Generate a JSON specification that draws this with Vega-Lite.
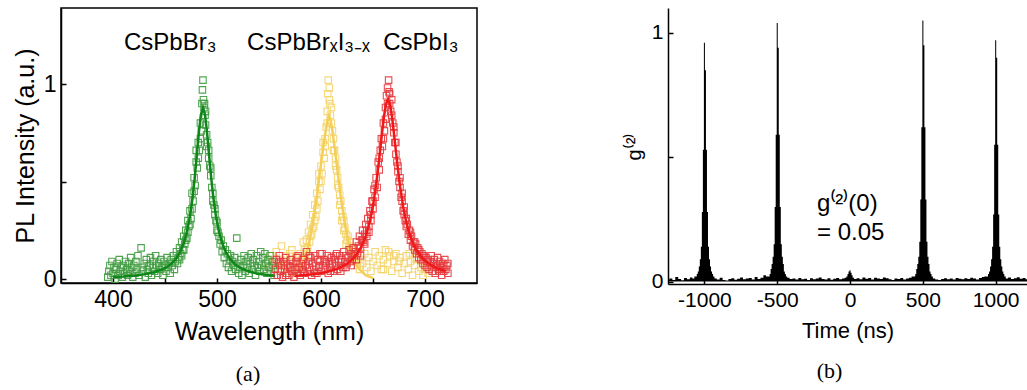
{
"$schema": "https://vega.github.io/schema/vega-lite/v6.json",
"padding": {"left": 12, "top": 7, "right": 0, "bottom": 0},
"spacing": 146,
"config": {
  "font": "Liberation Sans",
  "view": {"stroke": "black", "strokeWidth": 1.5},
  "axis": {"domainColor": "black", "domainWidth": 1.5, "tickColor": "black", "tickWidth": 1.5, "tickSize": -5, "labelColor": "black", "titleColor": "black", "titleFontWeight": "normal", "grid": false, "labelFont": "Liberation Sans", "titleFont": "Liberation Sans"},
  "title": {"font": "Liberation Serif", "fontWeight": "normal", "color": "black"}
},
"datasets": {
"pts": [
{"w":545,"i":0.04,"s":"y"},{"w":548,"i":0.09,"s":"y"},{"w":551,"i":0.06,"s":"y"},{"w":553,"i":0.12,"s":"y"},{"w":555,"i":0.08,"s":"y"},{"w":557,"i":0.14,"s":"y"},{"w":559,"i":0.05,"s":"y"},{"w":560,"i":0.07,"s":"y"},{"w":561,"i":0.10,"s":"y"},{"w":562,"i":0.17,"s":"y"},{"w":564,"i":0.07,"s":"y"},{"w":566,"i":0.12,"s":"y"},{"w":568,"i":0.04,"s":"y"},{"w":570,"i":0.09,"s":"y"},{"w":570,"i":0.13,"s":"y"},{"w":572,"i":0.15,"s":"y"},{"w":574,"i":0.06,"s":"y"},{"w":576,"i":0.11,"s":"y"},{"w":578,"i":0.08,"s":"y"},{"w":580,"i":0.13,"s":"y"},{"w":580,"i":0.06,"s":"y"},{"w":582,"i":0.10,"s":"y"},{"w":583,"i":0.19,"s":"y"},{"w":584,"i":0.15,"s":"y"},{"w":585,"i":0.12,"s":"y"},{"w":586,"i":0.20,"s":"y"},{"w":587,"i":0.16,"s":"y"},{"w":588,"i":0.24,"s":"y"},{"w":589,"i":0.19,"s":"y"},{"w":590,"i":0.28,"s":"y"},{"w":590,"i":0.22,"s":"y"},{"w":591,"i":0.23,"s":"y"},{"w":592,"i":0.33,"s":"y"},{"w":592,"i":0.26,"s":"y"},{"w":593,"i":0.27,"s":"y"},{"w":594,"i":0.38,"s":"y"},{"w":594,"i":0.30,"s":"y"},{"w":595,"i":0.32,"s":"y"},{"w":596,"i":0.44,"s":"y"},{"w":596,"i":0.36,"s":"y"},{"w":597,"i":0.40,"s":"y"},{"w":598,"i":0.50,"s":"y"},{"w":598,"i":0.54,"s":"y"},{"w":599,"i":0.46,"s":"y"},{"w":600,"i":0.58,"s":"y"},{"w":600,"i":0.50,"s":"y"},{"w":601,"i":0.54,"s":"y"},{"w":602,"i":0.65,"s":"y"},{"w":602,"i":0.70,"s":"y"},{"w":603,"i":0.62,"s":"y"},{"w":604,"i":0.72,"s":"y"},{"w":604,"i":0.68,"s":"y"},{"w":605,"i":0.78,"s":"y"},{"w":606,"i":0.86,"s":"y"},{"w":606,"i":0.80,"s":"y"},{"w":606.5,"i":0.95,"s":"y"},{"w":607,"i":1.02,"s":"y"},{"w":608,"i":0.98,"s":"y"},{"w":608,"i":0.92,"s":"y"},{"w":608.5,"i":0.90,"s":"y"},{"w":609,"i":0.84,"s":"y"},{"w":610,"i":0.88,"s":"y"},{"w":610,"i":0.80,"s":"y"},{"w":611,"i":0.76,"s":"y"},{"w":612,"i":0.72,"s":"y"},{"w":612,"i":0.66,"s":"y"},{"w":613,"i":0.66,"s":"y"},{"w":614,"i":0.62,"s":"y"},{"w":614,"i":0.58,"s":"y"},{"w":615,"i":0.56,"s":"y"},{"w":616,"i":0.52,"s":"y"},{"w":616,"i":0.48,"s":"y"},{"w":617,"i":0.47,"s":"y"},{"w":618,"i":0.43,"s":"y"},{"w":618,"i":0.38,"s":"y"},{"w":619,"i":0.40,"s":"y"},{"w":620,"i":0.35,"s":"y"},{"w":620,"i":0.30,"s":"y"},{"w":621,"i":0.32,"s":"y"},{"w":622,"i":0.30,"s":"y"},{"w":622,"i":0.25,"s":"y"},{"w":623,"i":0.26,"s":"y"},{"w":624,"i":0.23,"s":"y"},{"w":624,"i":0.18,"s":"y"},{"w":625,"i":0.20,"s":"y"},{"w":626,"i":0.22,"s":"y"},{"w":627,"i":0.17,"s":"y"},{"w":628,"i":0.19,"s":"y"},{"w":629,"i":0.14,"s":"y"},{"w":630,"i":0.16,"s":"y"},{"w":631,"i":0.12,"s":"y"},{"w":632,"i":0.15,"s":"y"},{"w":633,"i":0.09,"s":"y"},{"w":634,"i":0.13,"s":"y"},{"w":635,"i":0.07,"s":"y"},{"w":636,"i":0.11,"s":"y"},{"w":637,"i":0.05,"s":"y"},{"w":638,"i":0.10,"s":"y"},{"w":640,"i":0.08,"s":"y"},{"w":642,"i":0.13,"s":"y"},{"w":644,"i":0.06,"s":"y"},{"w":646,"i":0.11,"s":"y"},{"w":648,"i":0.04,"s":"y"},{"w":650,"i":0.09,"s":"y"},{"w":652,"i":0.14,"s":"y"},{"w":654,"i":0.07,"s":"y"},{"w":656,"i":0.12,"s":"y"},{"w":658,"i":0.05,"s":"y"},{"w":660,"i":0.10,"s":"y"},{"w":660,"i":0.05,"s":"y"},{"w":662,"i":0.15,"s":"y"},{"w":664,"i":0.08,"s":"y"},{"w":665,"i":0.14,"s":"y"},{"w":666,"i":0.12,"s":"y"},{"w":668,"i":0.04,"s":"y"},{"w":670,"i":0.09,"s":"y"},{"w":670,"i":0.12,"s":"y"},{"w":672,"i":0.13,"s":"y"},{"w":674,"i":0.06,"s":"y"},{"w":675,"i":0.09,"s":"y"},{"w":676,"i":0.11,"s":"y"},{"w":678,"i":0.03,"s":"y"},{"w":680,"i":0.08,"s":"y"},{"w":682,"i":0.12,"s":"y"},{"w":684,"i":0.05,"s":"y"},{"w":685,"i":0.13,"s":"y"},{"w":686,"i":0.09,"s":"y"},{"w":688,"i":0.02,"s":"y"},{"w":690,"i":0.07,"s":"y"},{"w":690,"i":0.11,"s":"y"},{"w":692,"i":0.10,"s":"y"},{"w":694,"i":0.04,"s":"y"},{"w":696,"i":0.06,"s":"y"},{"w":698,"i":0.02,"s":"y"},{"w":700,"i":0.05,"s":"y"},{"w":703,"i":0.03,"s":"y"},
{"w":395,"i":0.01,"s":"g"},{"w":396,"i":0.04,"s":"g"},{"w":397,"i":0.07,"s":"g"},{"w":398,"i":0.02,"s":"g"},{"w":399,"i":0.09,"s":"g"},{"w":400,"i":0.03,"s":"g"},{"w":401,"i":0.06,"s":"g"},{"w":402,"i":0.00,"s":"g"},{"w":403,"i":0.05,"s":"g"},{"w":404,"i":0.08,"s":"g"},{"w":405,"i":0.02,"s":"g"},{"w":406,"i":0.10,"s":"g"},{"w":407,"i":0.04,"s":"g"},{"w":408,"i":0.06,"s":"g"},{"w":409,"i":0.01,"s":"g"},{"w":410,"i":0.07,"s":"g"},{"w":411,"i":0.03,"s":"g"},{"w":412,"i":0.09,"s":"g"},{"w":413,"i":0.05,"s":"g"},{"w":414,"i":0.02,"s":"g"},{"w":415,"i":0.08,"s":"g"},{"w":416,"i":0.04,"s":"g"},{"w":417,"i":0.11,"s":"g"},{"w":418,"i":0.06,"s":"g"},{"w":419,"i":0.01,"s":"g"},{"w":420,"i":0.07,"s":"g"},{"w":421,"i":0.03,"s":"g"},{"w":422,"i":0.09,"s":"g"},{"w":423,"i":0.05,"s":"g"},{"w":424,"i":0.12,"s":"g"},{"w":425,"i":0.02,"s":"g"},{"w":427,"i":0.16,"s":"g"},{"w":428,"i":0.06,"s":"g"},{"w":429,"i":0.04,"s":"g"},{"w":430,"i":0.08,"s":"g"},{"w":431,"i":0.01,"s":"g"},{"w":432,"i":0.10,"s":"g"},{"w":433,"i":0.05,"s":"g"},{"w":434,"i":0.03,"s":"g"},{"w":435,"i":0.07,"s":"g"},{"w":436,"i":0.11,"s":"g"},{"w":437,"i":0.02,"s":"g"},{"w":438,"i":0.06,"s":"g"},{"w":439,"i":0.09,"s":"g"},{"w":440,"i":0.04,"s":"g"},{"w":441,"i":0.12,"s":"g"},{"w":442,"i":0.07,"s":"g"},{"w":443,"i":0.03,"s":"g"},{"w":444,"i":0.08,"s":"g"},{"w":445,"i":0.05,"s":"g"},{"w":446,"i":0.10,"s":"g"},{"w":447,"i":0.06,"s":"g"},{"w":448,"i":0.02,"s":"g"},{"w":449,"i":0.09,"s":"g"},{"w":450,"i":0.07,"s":"g"},{"w":451,"i":0.04,"s":"g"},{"w":452,"i":0.11,"s":"g"},{"w":453,"i":0.06,"s":"g"},{"w":454,"i":0.08,"s":"g"},{"w":455,"i":0.03,"s":"g"},{"w":456,"i":0.10,"s":"g"},{"w":457,"i":0.07,"s":"g"},{"w":458,"i":0.12,"s":"g"},{"w":459,"i":0.05,"s":"g"},{"w":460,"i":0.09,"s":"g"},{"w":461,"i":0.14,"s":"g"},{"w":462,"i":0.08,"s":"g"},{"w":463,"i":0.11,"s":"g"},{"w":464,"i":0.16,"s":"g"},{"w":464,"i":0.10,"s":"g"},{"w":465,"i":0.13,"s":"g"},{"w":466,"i":0.19,"s":"g"},{"w":466,"i":0.12,"s":"g"},{"w":467,"i":0.15,"s":"g"},{"w":468,"i":0.22,"s":"g"},{"w":468,"i":0.15,"s":"g"},{"w":469,"i":0.18,"s":"g"},{"w":470,"i":0.25,"s":"g"},{"w":470,"i":0.20,"s":"g"},{"w":471,"i":0.21,"s":"g"},{"w":472,"i":0.30,"s":"g"},{"w":472,"i":0.24,"s":"g"},{"w":473,"i":0.27,"s":"g"},{"w":474,"i":0.35,"s":"g"},{"w":474,"i":0.28,"s":"g"},{"w":475,"i":0.31,"s":"g"},{"w":476,"i":0.44,"s":"g"},{"w":476,"i":0.36,"s":"g"},{"w":477,"i":0.40,"s":"g"},{"w":478,"i":0.52,"s":"g"},{"w":478,"i":0.45,"s":"g"},{"w":479,"i":0.48,"s":"g"},{"w":480,"i":0.60,"s":"g"},{"w":480,"i":0.66,"s":"g"},{"w":481,"i":0.57,"s":"g"},{"w":482,"i":0.70,"s":"g"},{"w":482,"i":0.62,"s":"g"},{"w":483,"i":0.66,"s":"g"},{"w":484,"i":0.80,"s":"g"},{"w":484,"i":0.72,"s":"g"},{"w":485,"i":0.76,"s":"g"},{"w":485.5,"i":0.90,"s":"g"},{"w":486,"i":0.97,"s":"g"},{"w":486.5,"i":1.02,"s":"g"},{"w":487,"i":0.92,"s":"g"},{"w":487.5,"i":0.88,"s":"g"},{"w":488,"i":0.90,"s":"g"},{"w":488.5,"i":0.84,"s":"g"},{"w":489,"i":0.79,"s":"g"},{"w":489,"i":0.86,"s":"g"},{"w":490,"i":0.74,"s":"g"},{"w":490,"i":0.68,"s":"g"},{"w":491,"i":0.70,"s":"g"},{"w":492,"i":0.62,"s":"g"},{"w":492,"i":0.66,"s":"g"},{"w":493,"i":0.58,"s":"g"},{"w":494,"i":0.53,"s":"g"},{"w":494,"i":0.57,"s":"g"},{"w":495,"i":0.47,"s":"g"},{"w":496,"i":0.44,"s":"g"},{"w":496,"i":0.40,"s":"g"},{"w":497,"i":0.38,"s":"g"},{"w":498,"i":0.36,"s":"g"},{"w":498,"i":0.33,"s":"g"},{"w":499,"i":0.30,"s":"g"},{"w":500,"i":0.29,"s":"g"},{"w":500,"i":0.25,"s":"g"},{"w":501,"i":0.24,"s":"g"},{"w":502,"i":0.22,"s":"g"},{"w":503,"i":0.18,"s":"g"},{"w":504,"i":0.20,"s":"g"},{"w":505,"i":0.14,"s":"g"},{"w":506,"i":0.17,"s":"g"},{"w":507,"i":0.11,"s":"g"},{"w":508,"i":0.15,"s":"g"},{"w":509,"i":0.08,"s":"g"},{"w":510,"i":0.13,"s":"g"},{"w":511,"i":0.06,"s":"g"},{"w":512,"i":0.10,"s":"g"},{"w":513,"i":0.12,"s":"g"},{"w":514,"i":0.04,"s":"g"},{"w":515,"i":0.09,"s":"g"},{"w":516,"i":0.07,"s":"g"},{"w":517,"i":0.11,"s":"g"},{"w":518,"i":0.05,"s":"g"},{"w":519,"i":0.21,"s":"g"},{"w":520,"i":0.08,"s":"g"},{"w":521,"i":0.03,"s":"g"},{"w":522,"i":0.06,"s":"g"},{"w":523,"i":0.10,"s":"g"},{"w":524,"i":0.02,"s":"g"},{"w":525,"i":0.07,"s":"g"},{"w":526,"i":0.12,"s":"g"},{"w":527,"i":0.04,"s":"g"},{"w":528,"i":0.09,"s":"g"},{"w":529,"i":0.06,"s":"g"},{"w":530,"i":0.11,"s":"g"},{"w":531,"i":0.03,"s":"g"},{"w":532,"i":0.08,"s":"g"},{"w":533,"i":0.13,"s":"g"},{"w":534,"i":0.05,"s":"g"},{"w":535,"i":0.10,"s":"g"},{"w":536,"i":0.07,"s":"g"},{"w":537,"i":0.02,"s":"g"},{"w":538,"i":0.12,"s":"g"},{"w":539,"i":0.06,"s":"g"},{"w":540,"i":0.09,"s":"g"},{"w":541,"i":0.04,"s":"g"},{"w":542,"i":0.14,"s":"g"},{"w":543,"i":0.07,"s":"g"},{"w":544,"i":0.11,"s":"g"},{"w":545,"i":0.05,"s":"g"},{"w":546,"i":0.13,"s":"g"},{"w":547,"i":0.08,"s":"g"},{"w":548,"i":0.03,"s":"g"},{"w":549,"i":0.10,"s":"g"},{"w":550,"i":0.06,"s":"g"},{"w":551,"i":0.12,"s":"g"},{"w":552,"i":0.04,"s":"g"},{"w":553,"i":0.09,"s":"g"},{"w":554,"i":0.07,"s":"g"},{"w":555,"i":0.02,"s":"g"},
{"w":556,"i":0.05,"s":"r"},{"w":557,"i":0.10,"s":"r"},{"w":558,"i":0.02,"s":"r"},{"w":559,"i":0.08,"s":"r"},{"w":560,"i":0.12,"s":"r"},{"w":561,"i":0.04,"s":"r"},{"w":561,"i":0.09,"s":"r"},{"w":562,"i":0.07,"s":"r"},{"w":563,"i":0.01,"s":"r"},{"w":564,"i":0.09,"s":"r"},{"w":565,"i":0.05,"s":"r"},{"w":566,"i":0.11,"s":"r"},{"w":566,"i":0.02,"s":"r"},{"w":567,"i":0.03,"s":"r"},{"w":568,"i":0.07,"s":"r"},{"w":569,"i":0.02,"s":"r"},{"w":570,"i":0.06,"s":"r"},{"w":571,"i":0.10,"s":"r"},{"w":571,"i":0.06,"s":"r"},{"w":572,"i":0.04,"s":"r"},{"w":573,"i":0.08,"s":"r"},{"w":574,"i":0.01,"s":"r"},{"w":575,"i":0.05,"s":"r"},{"w":576,"i":0.09,"s":"r"},{"w":577,"i":0.03,"s":"r"},{"w":577,"i":0.11,"s":"r"},{"w":578,"i":0.12,"s":"r"},{"w":579,"i":0.06,"s":"r"},{"w":580,"i":0.02,"s":"r"},{"w":581,"i":0.08,"s":"r"},{"w":582,"i":0.05,"s":"r"},{"w":583,"i":0.10,"s":"r"},{"w":583,"i":0.04,"s":"r"},{"w":584,"i":0.03,"s":"r"},{"w":585,"i":0.07,"s":"r"},{"w":586,"i":0.14,"s":"r"},{"w":587,"i":0.04,"s":"r"},{"w":588,"i":0.09,"s":"r"},{"w":589,"i":0.06,"s":"r"},{"w":589,"i":0.12,"s":"r"},{"w":590,"i":0.11,"s":"r"},{"w":591,"i":0.02,"s":"r"},{"w":592,"i":0.08,"s":"r"},{"w":593,"i":0.05,"s":"r"},{"w":594,"i":0.12,"s":"r"},{"w":594,"i":0.03,"s":"r"},{"w":595,"i":0.07,"s":"r"},{"w":596,"i":0.03,"s":"r"},{"w":597,"i":0.10,"s":"r"},{"w":598,"i":0.06,"s":"r"},{"w":599,"i":0.09,"s":"r"},{"w":599,"i":0.13,"s":"r"},{"w":600,"i":0.04,"s":"r"},{"w":601,"i":0.13,"s":"r"},{"w":602,"i":0.07,"s":"r"},{"w":603,"i":0.10,"s":"r"},{"w":604,"i":0.05,"s":"r"},{"w":604,"i":0.09,"s":"r"},{"w":605,"i":0.08,"s":"r"},{"w":606,"i":0.12,"s":"r"},{"w":607,"i":0.03,"s":"r"},{"w":608,"i":0.09,"s":"r"},{"w":609,"i":0.06,"s":"r"},{"w":609,"i":0.04,"s":"r"},{"w":610,"i":0.11,"s":"r"},{"w":611,"i":0.08,"s":"r"},{"w":612,"i":0.04,"s":"r"},{"w":613,"i":0.10,"s":"r"},{"w":614,"i":0.07,"s":"r"},{"w":614,"i":0.12,"s":"r"},{"w":615,"i":0.13,"s":"r"},{"w":616,"i":0.05,"s":"r"},{"w":617,"i":0.09,"s":"r"},{"w":618,"i":0.12,"s":"r"},{"w":619,"i":0.07,"s":"r"},{"w":619,"i":0.04,"s":"r"},{"w":620,"i":0.10,"s":"r"},{"w":621,"i":0.06,"s":"r"},{"w":622,"i":0.14,"s":"r"},{"w":623,"i":0.09,"s":"r"},{"w":624,"i":0.12,"s":"r"},{"w":624,"i":0.06,"s":"r"},{"w":625,"i":0.08,"s":"r"},{"w":626,"i":0.11,"s":"r"},{"w":627,"i":0.15,"s":"r"},{"w":628,"i":0.09,"s":"r"},{"w":629,"i":0.13,"s":"r"},{"w":629,"i":0.07,"s":"r"},{"w":630,"i":0.10,"s":"r"},{"w":631,"i":0.16,"s":"r"},{"w":632,"i":0.12,"s":"r"},{"w":633,"i":0.14,"s":"r"},{"w":634,"i":0.19,"s":"r"},{"w":634,"i":0.10,"s":"r"},{"w":635,"i":0.13,"s":"r"},{"w":636,"i":0.17,"s":"r"},{"w":637,"i":0.22,"s":"r"},{"w":638,"i":0.16,"s":"r"},{"w":638,"i":0.12,"s":"r"},{"w":639,"i":0.20,"s":"r"},{"w":640,"i":0.25,"s":"r"},{"w":640,"i":0.20,"s":"r"},{"w":641,"i":0.19,"s":"r"},{"w":642,"i":0.23,"s":"r"},{"w":642,"i":0.18,"s":"r"},{"w":643,"i":0.28,"s":"r"},{"w":644,"i":0.22,"s":"r"},{"w":644,"i":0.25,"s":"r"},{"w":645,"i":0.31,"s":"r"},{"w":646,"i":0.27,"s":"r"},{"w":646,"i":0.24,"s":"r"},{"w":647,"i":0.35,"s":"r"},{"w":648,"i":0.30,"s":"r"},{"w":648,"i":0.33,"s":"r"},{"w":649,"i":0.40,"s":"r"},{"w":650,"i":0.36,"s":"r"},{"w":650,"i":0.40,"s":"r"},{"w":651,"i":0.46,"s":"r"},{"w":652,"i":0.42,"s":"r"},{"w":652,"i":0.48,"s":"r"},{"w":653,"i":0.52,"s":"r"},{"w":654,"i":0.47,"s":"r"},{"w":655,"i":0.60,"s":"r"},{"w":656,"i":0.56,"s":"r"},{"w":656,"i":0.62,"s":"r"},{"w":657,"i":0.66,"s":"r"},{"w":658,"i":0.72,"s":"r"},{"w":659,"i":0.68,"s":"r"},{"w":660,"i":0.80,"s":"r"},{"w":660,"i":0.72,"s":"r"},{"w":661,"i":0.76,"s":"r"},{"w":662,"i":0.88,"s":"r"},{"w":662,"i":0.82,"s":"r"},{"w":663,"i":0.94,"s":"r"},{"w":664,"i":0.98,"s":"r"},{"w":664,"i":0.90,"s":"r"},{"w":665,"i":1.02,"s":"r"},{"w":665.5,"i":0.96,"s":"r"},{"w":666,"i":0.90,"s":"r"},{"w":666,"i":0.95,"s":"r"},{"w":667,"i":0.86,"s":"r"},{"w":668,"i":0.92,"s":"r"},{"w":668,"i":0.84,"s":"r"},{"w":669,"i":0.80,"s":"r"},{"w":670,"i":0.75,"s":"r"},{"w":670,"i":0.78,"s":"r"},{"w":671,"i":0.70,"s":"r"},{"w":672,"i":0.64,"s":"r"},{"w":672,"i":0.70,"s":"r"},{"w":673,"i":0.60,"s":"r"},{"w":674,"i":0.55,"s":"r"},{"w":674,"i":0.58,"s":"r"},{"w":675,"i":0.50,"s":"r"},{"w":676,"i":0.47,"s":"r"},{"w":676,"i":0.52,"s":"r"},{"w":677,"i":0.42,"s":"r"},{"w":678,"i":0.40,"s":"r"},{"w":678,"i":0.44,"s":"r"},{"w":679,"i":0.35,"s":"r"},{"w":680,"i":0.33,"s":"r"},{"w":680,"i":0.37,"s":"r"},{"w":681,"i":0.30,"s":"r"},{"w":682,"i":0.27,"s":"r"},{"w":682,"i":0.31,"s":"r"},{"w":683,"i":0.28,"s":"r"},{"w":684,"i":0.23,"s":"r"},{"w":685,"i":0.25,"s":"r"},{"w":686,"i":0.20,"s":"r"},{"w":686,"i":0.24,"s":"r"},{"w":687,"i":0.22,"s":"r"},{"w":688,"i":0.17,"s":"r"},{"w":689,"i":0.19,"s":"r"},{"w":690,"i":0.15,"s":"r"},{"w":690,"i":0.19,"s":"r"},{"w":691,"i":0.18,"s":"r"},{"w":692,"i":0.13,"s":"r"},{"w":693,"i":0.16,"s":"r"},{"w":694,"i":0.11,"s":"r"},{"w":694,"i":0.15,"s":"r"},{"w":695,"i":0.14,"s":"r"},{"w":696,"i":0.10,"s":"r"},{"w":697,"i":0.13,"s":"r"},{"w":698,"i":0.08,"s":"r"},{"w":698,"i":0.12,"s":"r"},{"w":699,"i":0.12,"s":"r"},{"w":700,"i":0.07,"s":"r"},{"w":701,"i":0.11,"s":"r"},{"w":702,"i":0.06,"s":"r"},{"w":702,"i":0.09,"s":"r"},{"w":703,"i":0.10,"s":"r"},{"w":704,"i":0.05,"s":"r"},{"w":705,"i":0.09,"s":"r"},{"w":706,"i":0.12,"s":"r"},{"w":706,"i":0.07,"s":"r"},{"w":707,"i":0.04,"s":"r"},{"w":708,"i":0.08,"s":"r"},{"w":709,"i":0.10,"s":"r"},{"w":710,"i":0.03,"s":"r"},{"w":710,"i":0.06,"s":"r"},{"w":711,"i":0.07,"s":"r"},{"w":712,"i":0.11,"s":"r"},{"w":713,"i":0.05,"s":"r"},{"w":714,"i":0.09,"s":"r"},{"w":714,"i":0.04,"s":"r"},{"w":715,"i":0.06,"s":"r"},{"w":716,"i":0.02,"s":"r"},{"w":717,"i":0.08,"s":"r"},{"w":718,"i":0.04,"s":"r"},{"w":718,"i":0.07,"s":"r"},{"w":719,"i":0.10,"s":"r"},{"w":720,"i":0.05,"s":"r"},{"w":721,"i":0.07,"s":"r"},{"w":722,"i":0.03,"s":"r"},{"w":722,"i":0.08,"s":"r"}
],
"fit": [
{"w":572,"i":0.01,"s":"y"},{"w":578,"i":0.04,"s":"y"},{"w":584,"i":0.10,"s":"y"},{"w":588,"i":0.17,"s":"y"},{"w":592,"i":0.28,"s":"y"},{"w":596,"i":0.42,"s":"y"},{"w":599,"i":0.55,"s":"y"},{"w":602,"i":0.67,"s":"y"},{"w":604.5,"i":0.76,"s":"y"},{"w":606.5,"i":0.82,"s":"y"},{"w":607.7,"i":0.84,"s":"y"},{"w":609,"i":0.82,"s":"y"},{"w":611,"i":0.76,"s":"y"},{"w":613.5,"i":0.66,"s":"y"},{"w":616,"i":0.55,"s":"y"},{"w":619,"i":0.42,"s":"y"},{"w":623,"i":0.28,"s":"y"},{"w":627,"i":0.17,"s":"y"},{"w":631,"i":0.10,"s":"y"},{"w":637,"i":0.05,"s":"y"},{"w":643,"i":0.02,"s":"y"},{"w":650,"i":0.005,"s":"y"},
{"w":400,"i":0.0105,"s":"g"},{"w":410,"i":0.0134,"s":"g"},{"w":420,"i":0.0176,"s":"g"},{"w":430,"i":0.0242,"s":"g"},{"w":440,"i":0.0353,"s":"g"},{"w":450,"i":0.0558,"s":"g"},{"w":456,"i":0.0778,"s":"g"},{"w":461,"i":0.107,"s":"g"},{"w":465,"i":0.144,"s":"g"},{"w":468,"i":0.184,"s":"g"},{"w":471,"i":0.240,"s":"g"},{"w":474,"i":0.322,"s":"g"},{"w":476.5,"i":0.417,"s":"g"},{"w":478.5,"i":0.515,"s":"g"},{"w":480.5,"i":0.629,"s":"g"},{"w":482.5,"i":0.748,"s":"g"},{"w":484.5,"i":0.843,"s":"g"},{"w":486.5,"i":0.88,"s":"g"},{"w":488.5,"i":0.843,"s":"g"},{"w":490.5,"i":0.748,"s":"g"},{"w":492.5,"i":0.629,"s":"g"},{"w":494.5,"i":0.515,"s":"g"},{"w":496.5,"i":0.417,"s":"g"},{"w":499,"i":0.322,"s":"g"},{"w":502,"i":0.240,"s":"g"},{"w":505,"i":0.184,"s":"g"},{"w":509,"i":0.133,"s":"g"},{"w":513,"i":0.100,"s":"g"},{"w":517,"i":0.0778,"s":"g"},{"w":523,"i":0.0558,"s":"g"},{"w":530,"i":0.0401,"s":"g"},{"w":540,"i":0.0269,"s":"g"},{"w":548,"i":0.0205,"s":"g"},{"w":556,"i":0.0161,"s":"g"},
{"w":575,"i":0.0163,"s":"r"},{"w":585,"i":0.0205,"s":"r"},{"w":595,"i":0.0267,"s":"r"},{"w":605,"i":0.0361,"s":"r"},{"w":615,"i":0.0513,"s":"r"},{"w":625,"i":0.0781,"s":"r"},{"w":632,"i":0.111,"s":"r"},{"w":638,"i":0.158,"s":"r"},{"w":643,"i":0.220,"s":"r"},{"w":647,"i":0.297,"s":"r"},{"w":650,"i":0.377,"s":"r"},{"w":653,"i":0.484,"s":"r"},{"w":655.5,"i":0.594,"s":"r"},{"w":658,"i":0.716,"s":"r"},{"w":660.5,"i":0.832,"s":"r"},{"w":662.5,"i":0.898,"s":"r"},{"w":664.4,"i":0.92,"s":"r"},{"w":666.5,"i":0.893,"s":"r"},{"w":668.5,"i":0.824,"s":"r"},{"w":671,"i":0.706,"s":"r"},{"w":673.5,"i":0.584,"s":"r"},{"w":676,"i":0.476,"s":"r"},{"w":679,"i":0.371,"s":"r"},{"w":682,"i":0.292,"s":"r"},{"w":686,"i":0.217,"s":"r"},{"w":691,"i":0.156,"s":"r"},{"w":697,"i":0.110,"s":"r"},{"w":704,"i":0.0774,"s":"r"},{"w":712,"i":0.055,"s":"r"},{"w":720,"i":0.041,"s":"r"}
],
"lab": [
{"w":455,"i":1.21,"label":"CsPbBr₃"},
{"w":588,"i":1.21,"label":"CsPbBrₓI₃₋ₓ"},
{"w":696,"i":1.21,"label":"CsPbI₃"}
],
"g2": [
{"t":-1250,"g":0.008},{"t":-1230,"g":0.012},{"t":-1210,"g":0.006},{"t":-1190,"g":0.018},{"t":-1170,"g":0.01},{"t":-1150,"g":0.005},{"t":-1130,"g":0.014},{"t":-1110,"g":0.009},{"t":-1090,"g":0.016},{"t":-1075,"g":0.012},{"t":-1063,"g":0.02},
{"t":-1056,"g":0.02},{"t":-1049,"g":0.03},{"t":-1042,"g":0.04},{"t":-1035,"g":0.06},{"t":-1028,"g":0.09},{"t":-1021,"g":0.14},{"t":-1014,"g":0.28},{"t":-1007,"g":0.53},{"t":-1000,"g":0.96},{"t":-993,"g":0.85},{"t":-986,"g":0.53},{"t":-979,"g":0.28},{"t":-972,"g":0.14},{"t":-965,"g":0.09},{"t":-958,"g":0.06},{"t":-951,"g":0.04},{"t":-944,"g":0.03},{"t":-937,"g":0.02},
{"t":-925,"g":0.012},{"t":-905,"g":0.008},{"t":-885,"g":0.015},{"t":-865,"g":0.006},{"t":-845,"g":0.004},{"t":-825,"g":0.01},{"t":-805,"g":0.013},{"t":-785,"g":0.007},{"t":-765,"g":0.011},{"t":-745,"g":0.016},{"t":-725,"g":0.009},{"t":-705,"g":0.012},{"t":-685,"g":0.014},{"t":-665,"g":0.008},{"t":-645,"g":0.018},{"t":-625,"g":0.01},{"t":-605,"g":0.015},{"t":-585,"g":0.025},{"t":-570,"g":0.02},
{"t":-556,"g":0.02},{"t":-549,"g":0.03},{"t":-542,"g":0.05},{"t":-535,"g":0.07},{"t":-528,"g":0.10},{"t":-521,"g":0.15},{"t":-514,"g":0.30},{"t":-507,"g":0.59},{"t":-500,"g":1.04},{"t":-493,"g":0.94},{"t":-486,"g":0.59},{"t":-479,"g":0.30},{"t":-472,"g":0.15},{"t":-465,"g":0.10},{"t":-458,"g":0.07},{"t":-451,"g":0.04},{"t":-444,"g":0.03},{"t":-437,"g":0.02},
{"t":-425,"g":0.015},{"t":-405,"g":0.01},{"t":-385,"g":0.012},{"t":-365,"g":0.008},{"t":-345,"g":0.014},{"t":-325,"g":0.009},{"t":-305,"g":0.011},{"t":-285,"g":0.006},{"t":-265,"g":0.013},{"t":-245,"g":0.009},{"t":-225,"g":0.012},{"t":-205,"g":0.016},{"t":-185,"g":0.01},{"t":-165,"g":0.008},{"t":-145,"g":0.013},{"t":-125,"g":0.007},{"t":-105,"g":0.011},{"t":-85,"g":0.014},{"t":-65,"g":0.009},{"t":-45,"g":0.012},{"t":-30,"g":0.015},
{"t":-21,"g":0.02},{"t":-14,"g":0.03},{"t":-7,"g":0.04},{"t":0,"g":0.045},{"t":7,"g":0.035},{"t":14,"g":0.025},{"t":21,"g":0.015},
{"t":35,"g":0.01},{"t":55,"g":0.013},{"t":75,"g":0.009},{"t":95,"g":0.016},{"t":115,"g":0.011},{"t":135,"g":0.014},{"t":155,"g":0.008},{"t":175,"g":0.015},{"t":195,"g":0.012},{"t":215,"g":0.01},{"t":235,"g":0.016},{"t":255,"g":0.013},{"t":275,"g":0.009},{"t":295,"g":0.006},{"t":315,"g":0.012},{"t":335,"g":0.01},{"t":355,"g":0.014},{"t":375,"g":0.008},{"t":395,"g":0.012},{"t":415,"g":0.015},{"t":430,"g":0.02},
{"t":444,"g":0.02},{"t":451,"g":0.03},{"t":458,"g":0.05},{"t":465,"g":0.07},{"t":472,"g":0.10},{"t":479,"g":0.16},{"t":486,"g":0.33},{"t":493,"g":0.62},{"t":500,"g":1.05},{"t":507,"g":0.95},{"t":514,"g":0.62},{"t":521,"g":0.33},{"t":528,"g":0.16},{"t":535,"g":0.10},{"t":542,"g":0.07},{"t":549,"g":0.04},{"t":556,"g":0.03},{"t":563,"g":0.02},
{"t":575,"g":0.012},{"t":595,"g":0.008},{"t":615,"g":0.006},{"t":635,"g":0.01},{"t":655,"g":0.013},{"t":675,"g":0.009},{"t":695,"g":0.012},{"t":715,"g":0.008},{"t":735,"g":0.014},{"t":755,"g":0.011},{"t":775,"g":0.009},{"t":795,"g":0.013},{"t":815,"g":0.01},{"t":835,"g":0.015},{"t":855,"g":0.012},{"t":875,"g":0.008},{"t":895,"g":0.014},{"t":915,"g":0.018},{"t":930,"g":0.02},
{"t":944,"g":0.02},{"t":951,"g":0.03},{"t":958,"g":0.04},{"t":965,"g":0.06},{"t":972,"g":0.09},{"t":979,"g":0.14},{"t":986,"g":0.27},{"t":993,"g":0.55},{"t":1000,"g":0.97},{"t":1007,"g":0.90},{"t":1014,"g":0.55},{"t":1021,"g":0.27},{"t":1028,"g":0.14},{"t":1035,"g":0.09},{"t":1042,"g":0.06},{"t":1049,"g":0.04},{"t":1056,"g":0.03},{"t":1063,"g":0.02},
{"t":1075,"g":0.012},{"t":1095,"g":0.016},{"t":1115,"g":0.01},{"t":1135,"g":0.013},{"t":1155,"g":0.017},{"t":1175,"g":0.011},{"t":1195,"g":0.014},{"t":1215,"g":0.009}
],
"ann": [
{"t":-227,"g":0.312,"label":"g⁽²⁾(0)"},
{"t":-227,"g":0.195,"label":"= 0.05"}
]
},
"hconcat": [
{
  "width": 416, "height": 275,
  "title": {"text": "(a)", "orient": "bottom", "fontSize": 22, "dx": -21, "offset": 20},
  "encoding": {
    "x": {"field": "w", "type": "quantitative", "scale": {"domain": [350, 750], "nice": false, "zero": false},
      "axis": {"values": [400, 450, 500, 550, 600, 650, 700], "labelExpr": "datum.value % 100 === 0 ? datum.value + '' : ''", "title": "Wavelength (nm)", "labelFontSize": 23, "titleFontSize": 25, "labelPadding": 10, "titlePadding": 8}},
    "y": {"field": "i", "type": "quantitative", "scale": {"domain": [-0.02, 1.39], "nice": false, "zero": false},
      "axis": {"values": [0, 0.5, 1], "labelExpr": "datum.value === 0.5 ? '' : datum.value + ''", "title": "PL Intensity (a.u.)", "labelFontSize": 23, "titleFontSize": 25, "labelPadding": 10, "titlePadding": 5}}
  },
  "layer": [
    {"data": {"name": "pts"}, "transform": [{"filter": "datum.s === 'y'"}], "mark": {"type": "point", "shape": "square", "filled": false, "size": 42, "strokeWidth": 1.1, "color": "#f5d46a", "opacity": 0.9}},
    {"data": {"name": "fit"}, "transform": [{"filter": "datum.s === 'y'"}], "mark": {"type": "line", "color": "#f4cf58", "strokeWidth": 2.5}},
    {"data": {"name": "pts"}, "transform": [{"filter": "datum.s === 'g'"}], "mark": {"type": "point", "shape": "square", "filled": false, "size": 42, "strokeWidth": 1.1, "color": "#3f9c3f", "opacity": 0.9}},
    {"data": {"name": "fit"}, "transform": [{"filter": "datum.s === 'g'"}], "mark": {"type": "line", "color": "#0f861a", "strokeWidth": 2.5}},
    {"data": {"name": "pts"}, "transform": [{"filter": "datum.s === 'r'"}], "mark": {"type": "point", "shape": "square", "filled": false, "size": 42, "strokeWidth": 1.1, "color": "#e63a3e", "opacity": 0.9}},
    {"data": {"name": "fit"}, "transform": [{"filter": "datum.s === 'r'"}], "mark": {"type": "line", "color": "#f01818", "strokeWidth": 2.5}},
    {"data": {"name": "lab"}, "mark": {"type": "text", "fontSize": 24, "color": "black", "align": "center", "baseline": "middle"}, "encoding": {"text": {"field": "label"}}}
  ]
},
{
  "width": 359, "height": 276,
  "view": {"stroke": null},
  "title": {"text": "(b)", "orient": "bottom", "fontSize": 22, "dx": -18, "offset": 20},
  "encoding": {
    "x": {"field": "t", "type": "quantitative", "scale": {"domain": [-1250, 1215], "nice": false, "zero": false},
      "axis": {"values": [-1000, -500, 0, 500, 1000], "labelExpr": "datum.value + ''", "title": "Time (ns)", "labelFontSize": 21, "titleFontSize": 22, "labelPadding": 10, "titlePadding": 10}},
    "y": {"field": "g", "type": "quantitative", "scale": {"domain": [-0.01, 1.1], "nice": false, "zero": false},
      "axis": {"values": [0, 0.5, 1], "labelExpr": "datum.value === 0.5 ? '' : datum.value + ''", "title": "g⁽²⁾", "labelFontSize": 21, "titleFontSize": 20, "labelPadding": 10, "titlePadding": 7}}
  },
  "layer": [
    {"data": {"name": "g2"}, "mark": {"type": "area", "interpolate": "step", "color": "black"}},
    {"data": {"name": "ann"}, "mark": {"type": "text", "fontSize": 24, "color": "black", "align": "left", "baseline": "middle"}, "encoding": {"text": {"field": "label"}}},
    {"data": {"values": [{}]}, "mark": {"type": "rule", "color": "black", "strokeWidth": 1.5}, "encoding": {"y": {"datum": 1.1}}}
  ]
}
]
}
